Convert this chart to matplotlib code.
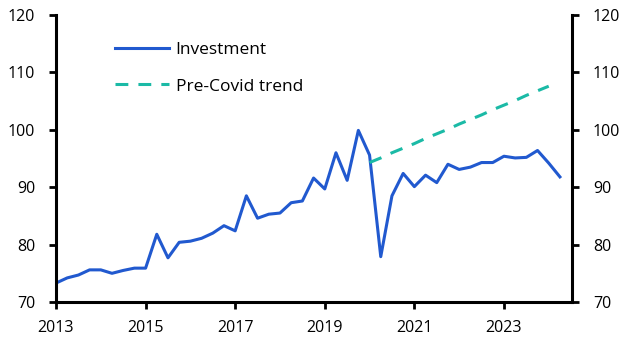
import matplotlib
matplotlib.use("Agg")
import matplotlib.pyplot as plt
import numpy as np

plt.rcParams['font.family'] = ['Open Sans', 'DejaVu Sans']

start_year = 2013.0
investment = [73.3, 74.2, 74.7, 75.6, 75.6, 75.0, 75.5, 75.9,
              75.9, 81.8, 77.7, 80.4, 80.6, 81.1, 82.0, 83.3,
              82.4, 88.5, 84.6, 85.3, 85.5, 87.3, 87.6, 91.6,
              89.7, 96.0, 91.2, 99.9, 95.6, 77.9, 88.5, 92.4,
              90.1, 92.1, 90.8, 94.0, 93.1, 93.5, 94.3, 94.3,
              95.4, 95.1, 95.2, 96.4, 94.2, 91.8]
trend_start = 2020.0
trend = [94.3, 95.1, 96.0, 96.8, 97.6, 98.5, 99.3, 100.1, 101.0,
         101.8, 102.6, 103.5, 104.3, 105.1, 106.0, 106.8, 107.6]
xticks = [2013, 2015, 2017, 2019, 2021, 2023]
yticks = [70, 80, 90, 100, 110, 120]

x_inv = start_year + np.arange(len(investment)) / 4
x_tr = trend_start + np.arange(len(trend)) / 4

fig = plt.figure(figsize=(6.32, 3.58), dpi=100)
ax = fig.add_axes([0.0886, 0.1564, 0.8165, 0.8016])
ax.plot(x_inv, investment, color='#2159cf', lw=2.2, label='Investment')
ax.plot(x_tr, trend, color='#1bbaa6', lw=2.2, dashes=(4.2, 3.3), label='Pre-Covid trend')

ax.set_xlim(2013, 2024.52)
ax.set_ylim(70, 120)
ax.set_xticks(xticks)
ax.set_yticks(yticks)
ax.tick_params(axis='both', direction='out', length=5, width=2, labelsize=11.5, colors='black')
ax.tick_params(axis='x', pad=8)
ax.tick_params(axis='y', right=True, labelright=True, pad=10)
ax.spines['top'].set_visible(False)
for s in ['left', 'right', 'bottom']:
    ax.spines[s].set_linewidth(2.2)

ax.legend(loc='upper left', bbox_to_anchor=(0.084, 0.962), frameon=False, fontsize=12.5,
          handlelength=3.1, handletextpad=0.4, labelspacing=1.19)

fig.savefig('out.png', dpi=100)
